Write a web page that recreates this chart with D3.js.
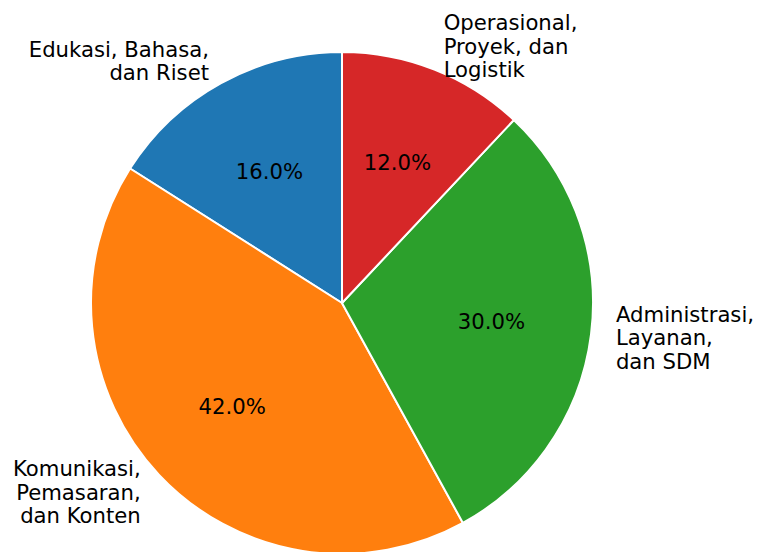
<!DOCTYPE html>
<html>
<head>
<meta charset="utf-8">
<script src="https://cdn.jsdelivr.net/npm/d3@7"></script>
<style>
  body { margin: 0; background: #fff; }
  svg { display: block; font-family: "DejaVu Sans", sans-serif; }
</style>
</head>
<body>
<div id="chart"></div>
<script>
// slices in matplotlib order (counterclockwise from top)
var labels = [
  ["Edukasi, Bahasa,", "dan Riset"],
  ["Komunikasi,", "Pemasaran,", "dan Konten"],
  ["Administrasi,", "Layanan,", "dan SDM"],
  ["Operasional,", "Proyek, dan", "Logistik"]
];
var values = [16, 42, 30, 12];
var colors = ["#1f77b4", "#ff7f0e", "#2ca02c", "#d62728"];

var svgWidth = 758;
var svgHeight = 552;
var cx = 342, cy = 303, radius = 251;
var fontSize = 21.2;
var lineH = 23.4;

var svg = d3.select("#chart")
  .append("svg")
  .attr("width", svgWidth)
  .attr("height", svgHeight);

var g = svg.append("g")
  .attr("transform", `translate(${cx}, ${cy})`);

// negative end angle so slices run counterclockwise like matplotlib
var pie = d3.pie().sort(null).startAngle(0).endAngle(-2 * Math.PI);
var arcs = pie(values);

var arc = d3.arc().innerRadius(0).outerRadius(radius);

g.selectAll("path")
  .data(arcs)
  .enter()
  .append("path")
  .attr("d", arc)
  .attr("fill", (d, i) => colors[i])
  .attr("stroke", "white")
  .attr("stroke-width", 2)
  .attr("stroke-linejoin", "round");

function pos(d, r) {
  var a = (d.startAngle + d.endAngle) / 2;
  return [r * Math.sin(a), -r * Math.cos(a)];
}

var total = d3.sum(values);

// percentage labels
g.selectAll("text.pct")
  .data(arcs)
  .enter()
  .append("text")
  .attr("class", "pct")
  .attr("x", d => pos(d, radius * 0.6)[0])
  .attr("y", d => pos(d, radius * 0.6)[1])
  .attr("text-anchor", "middle")
  .attr("dominant-baseline", "central")
  .attr("font-size", fontSize)
  .attr("fill", "black")
  .text(d => (d.value / total * 100).toFixed(1) + "%");

// category labels
arcs.forEach(function(d, i) {
  var p = pos(d, radius * 1.1);
  var lines = labels[i];
  var t = g.append("text")
    .attr("text-anchor", p[0] > 0 ? "start" : "end")
    .attr("font-size", fontSize)
    .attr("fill", "black");
  var y0 = p[1] - (lines.length - 1) * lineH / 2;
  lines.forEach(function(s, k) {
    t.append("tspan")
      .attr("x", p[0])
      .attr("y", y0 + k * lineH)
      .attr("dominant-baseline", "central")
      .text(s);
  });
});
</script>
</body>
</html>
